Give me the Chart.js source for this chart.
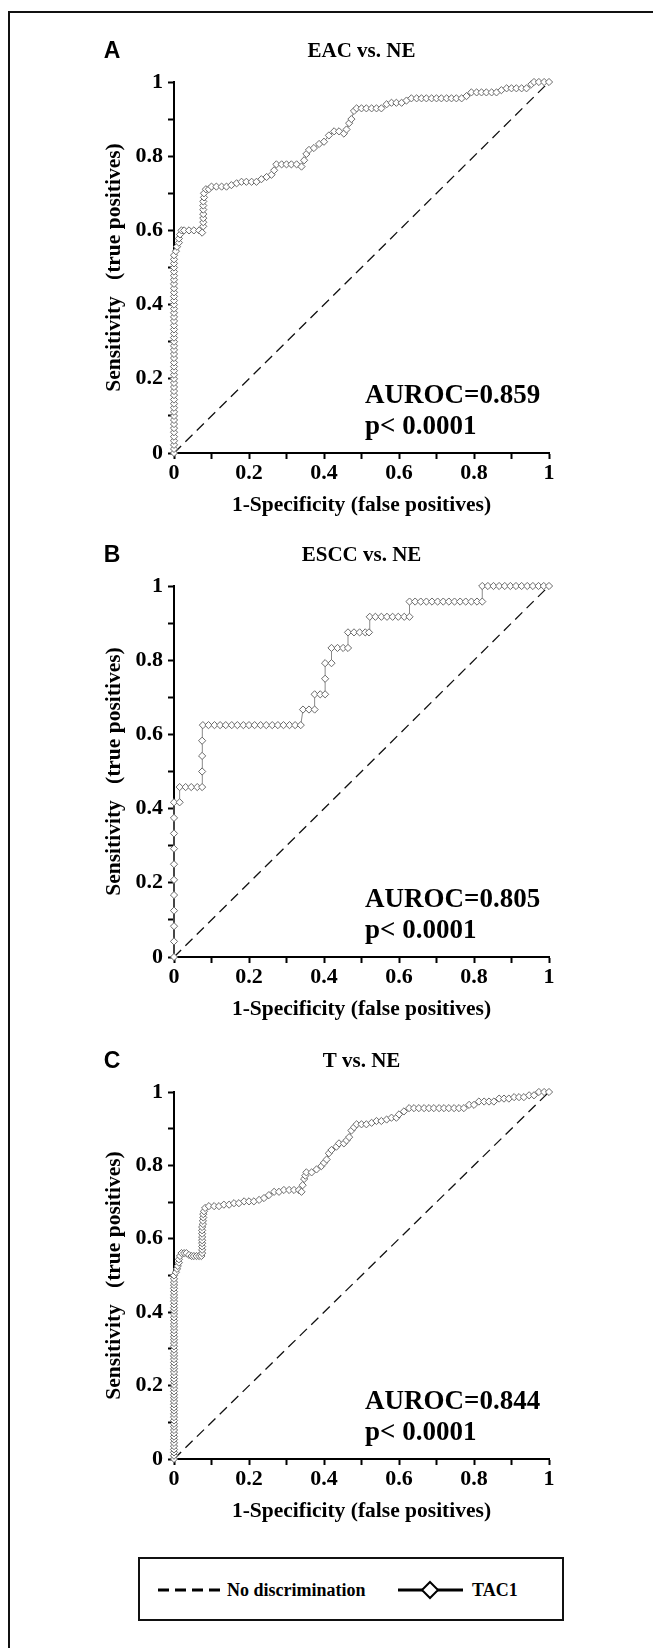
<!DOCTYPE html>
<html>
<head>
<meta charset="utf-8">
<script src="https://cdn.jsdelivr.net/npm/chart.js@4.4.1/dist/chart.umd.min.js"></script>
<style>
html,body{margin:0;padding:0;background:#fff;}
body{width:653px;height:1648px;position:relative;overflow:hidden;}
#frame{position:absolute;left:8px;top:11px;width:700px;height:1700px;border-left:2px solid #111;border-top:2px solid #111;}
canvas{position:absolute;left:0;}
#legend{position:absolute;left:138px;top:1557px;width:426px;height:64px;box-sizing:border-box;border:2px solid #111;background:#fff;}
#legend svg{position:absolute;left:-2px;top:-2px;}
</style>
</head>
<body>
<div id="frame"></div>
<canvas id="cA" width="653" height="521" style="top:2px"></canvas>
<canvas id="cB" width="653" height="521" style="top:506px"></canvas>
<canvas id="cC" width="653" height="517" style="top:1012px"></canvas>
<div id="legend">
<svg width="426" height="64" xmlns="http://www.w3.org/2000/svg">
  <line x1="20" y1="33" x2="82" y2="33" stroke="#000" stroke-width="3" stroke-dasharray="11,6"/>
  <text x="89" y="39" font-family="Liberation Serif, Times New Roman, serif" font-weight="bold" font-size="18" fill="#000">No discrimination</text>
  <line x1="260" y1="33" x2="325" y2="33" stroke="#000" stroke-width="3"/>
  <polygon points="292,25 300,33 292,41 284,33" fill="#fff" stroke="#000" stroke-width="2"/>
  <text x="334" y="39" font-family="Liberation Serif, Times New Roman, serif" font-weight="bold" font-size="18" fill="#000">TAC1</text>
</svg>
</div>
<script>
// ---------- data ----------
const panelLetters = ['A', 'B', 'C'];
const panelTitles = ['EAC vs. NE', 'ESCC vs. NE', 'T vs. NE'];
const aurocLabels = ['AUROC=0.859', 'AUROC=0.805', 'AUROC=0.844'];
const pLabels = ['p< 0.0001', 'p< 0.0001', 'p< 0.0001'];
const xTickLabels = ['0', '0.2', '0.4', '0.6', '0.8', '1'];
const yTickLabels = ['0', '0.2', '0.4', '0.6', '0.8', '1'];
const xAxisTitle = '1-Specificity (false positives)';
const yAxisTitle = 'Sensitivity   (true positives)';
const diagX = [0, 1];
const diagY = [0, 1];

// [1-specificity, sensitivity]
const eacRoc = [
[0,0],[0,0.011],[0,0.022],[0,0.033],[0,0.044],[0,0.056],[0,0.067],[0,0.078],[0,0.089],[0,0.1],
[0,0.111],[0,0.122],[0,0.133],[0,0.144],[0,0.156],[0,0.167],[0,0.178],[0,0.189],[0,0.2],[0,0.211],
[0,0.222],[0,0.233],[0,0.244],[0,0.256],[0,0.267],[0,0.278],[0,0.289],[0,0.3],[0,0.311],[0,0.322],
[0,0.333],[0,0.344],[0,0.356],[0,0.367],[0,0.378],[0,0.389],[0,0.4],[0,0.411],[0,0.422],[0,0.433],
[0,0.444],[0,0.456],[0,0.467],[0,0.478],[0,0.489],[0,0.5],[0,0.511],[0,0.522],[0,0.533],
[0.005,0.544],[0.008,0.556],[0.013,0.567],[0.013,0.578],[0.016,0.589],[0.02,0.6],[0.027,0.6],[0.04,0.6],
[0.053,0.6],[0.067,0.6],[0.075,0.594],[0.078,0.611],[0.078,0.622],[0.078,0.633],[0.078,0.644],[0.078,0.656],
[0.078,0.667],[0.078,0.678],[0.08,0.689],[0.08,0.7],[0.085,0.711],[0.093,0.711],[0.1,0.718],[0.113,0.718],
[0.127,0.718],[0.14,0.718],[0.153,0.722],[0.167,0.727],[0.18,0.731],[0.193,0.731],[0.207,0.731],[0.22,0.731],
[0.233,0.738],[0.247,0.744],[0.26,0.75],[0.267,0.762],[0.273,0.778],[0.287,0.778],[0.3,0.778],[0.313,0.778],
[0.327,0.778],[0.34,0.772],[0.347,0.789],[0.353,0.806],[0.36,0.817],[0.373,0.822],[0.387,0.833],[0.4,0.839],
[0.413,0.856],[0.427,0.867],[0.44,0.867],[0.453,0.861],[0.46,0.872],[0.467,0.889],[0.473,0.9],[0.48,0.922],
[0.487,0.929],[0.5,0.929],[0.513,0.929],[0.527,0.929],[0.54,0.929],[0.553,0.929],[0.567,0.94],[0.58,0.944],
[0.593,0.944],[0.607,0.944],[0.62,0.95],[0.633,0.956],[0.647,0.956],[0.66,0.956],[0.673,0.956],[0.687,0.956],
[0.7,0.956],[0.713,0.956],[0.727,0.956],[0.74,0.956],[0.753,0.956],[0.767,0.956],[0.78,0.962],[0.793,0.972],
[0.807,0.972],[0.82,0.972],[0.833,0.972],[0.847,0.972],[0.86,0.972],[0.873,0.978],[0.887,0.983],[0.9,0.983],
[0.913,0.983],[0.927,0.983],[0.94,0.983],[0.953,0.994],[0.96,1],[0.973,1],[0.987,1],[1,1]
];

const esccRoc = [
[0,0],[0,0.042],[0,0.083],[0,0.125],[0,0.167],[0,0.208],[0,0.25],[0,0.292],[0,0.333],[0,0.375],[0,0.417],
[0.015,0.417],[0.015,0.458],[0.031,0.458],[0.046,0.458],[0.062,0.458],[0.075,0.458],[0.075,0.5],[0.075,0.542],
[0.075,0.583],[0.077,0.625],[0.092,0.625],[0.108,0.625],[0.123,0.625],[0.138,0.625],[0.154,0.625],[0.169,0.625],
[0.185,0.625],[0.2,0.625],[0.215,0.625],[0.231,0.625],[0.246,0.625],[0.262,0.625],[0.277,0.625],[0.292,0.625],
[0.308,0.625],[0.323,0.625],[0.338,0.625],[0.344,0.667],[0.36,0.667],[0.375,0.667],[0.375,0.708],[0.39,0.708],
[0.403,0.708],[0.403,0.75],[0.403,0.792],[0.42,0.792],[0.42,0.833],[0.436,0.833],[0.451,0.833],[0.464,0.833],
[0.464,0.875],[0.48,0.875],[0.495,0.875],[0.51,0.875],[0.52,0.875],[0.522,0.917],[0.537,0.917],[0.553,0.917],
[0.568,0.917],[0.583,0.917],[0.598,0.917],[0.614,0.917],[0.628,0.917],[0.628,0.958],[0.643,0.958],[0.658,0.958],
[0.673,0.958],[0.688,0.958],[0.703,0.958],[0.718,0.958],[0.733,0.958],[0.748,0.958],[0.763,0.958],[0.778,0.958],
[0.793,0.958],[0.808,0.958],[0.822,0.958],[0.822,1],[0.837,1],[0.852,1],[0.867,1],[0.882,1],[0.897,1],
[0.912,1],[0.927,1],[0.942,1],[0.957,1],[0.972,1],[0.986,1],[1,1]
];

const tRoc = [
[0,0],[0,0.009],[0,0.018],[0,0.026],[0,0.035],[0,0.044],[0,0.053],[0,0.061],[0,0.07],[0,0.079],
[0,0.088],[0,0.096],[0,0.105],[0,0.114],[0,0.123],[0,0.132],[0,0.14],[0,0.149],[0,0.158],[0,0.167],
[0,0.175],[0,0.184],[0,0.193],[0,0.202],[0,0.211],[0,0.219],[0,0.228],[0,0.237],[0,0.246],[0,0.254],
[0,0.263],[0,0.272],[0,0.281],[0,0.289],[0,0.298],[0,0.307],[0,0.316],[0,0.325],[0,0.333],[0,0.342],
[0,0.351],[0,0.36],[0,0.368],[0,0.377],[0,0.386],[0,0.395],[0,0.404],[0,0.412],[0,0.421],[0,0.43],
[0,0.439],[0,0.447],[0,0.456],[0,0.465],[0,0.474],[0,0.482],[0,0.491],[0,0.5],
[0.005,0.509],[0.008,0.518],[0.01,0.526],[0.013,0.535],[0.013,0.544],[0.016,0.553],[0.02,0.561],[0.027,0.561],
[0.033,0.561],[0.04,0.556],[0.047,0.553],[0.053,0.553],[0.06,0.553],[0.067,0.553],[0.073,0.553],[0.075,0.561],
[0.075,0.57],[0.075,0.579],[0.075,0.588],[0.075,0.596],[0.075,0.605],[0.075,0.614],[0.075,0.623],[0.075,0.632],
[0.077,0.64],[0.077,0.649],[0.078,0.658],[0.078,0.667],[0.08,0.675],[0.083,0.684],[0.093,0.689],[0.107,0.689],
[0.12,0.689],[0.133,0.693],[0.147,0.693],[0.16,0.697],[0.173,0.697],[0.187,0.702],[0.2,0.702],[0.213,0.702],
[0.227,0.706],[0.24,0.711],[0.253,0.719],[0.267,0.728],[0.28,0.728],[0.293,0.733],[0.307,0.733],[0.32,0.733],
[0.333,0.733],[0.34,0.728],[0.343,0.746],[0.347,0.763],[0.35,0.772],[0.353,0.781],[0.367,0.781],[0.38,0.789],
[0.393,0.798],[0.4,0.807],[0.407,0.816],[0.413,0.833],[0.42,0.842],[0.433,0.851],[0.44,0.86],[0.453,0.86],
[0.46,0.868],[0.467,0.877],[0.473,0.895],[0.48,0.904],[0.487,0.912],[0.5,0.912],[0.513,0.912],[0.527,0.916],
[0.54,0.921],[0.553,0.921],[0.567,0.925],[0.58,0.93],[0.593,0.93],[0.6,0.939],[0.613,0.947],[0.627,0.956],
[0.64,0.956],[0.653,0.956],[0.667,0.956],[0.68,0.956],[0.693,0.956],[0.707,0.956],[0.72,0.956],[0.733,0.956],
[0.747,0.956],[0.76,0.956],[0.773,0.956],[0.787,0.965],[0.8,0.965],[0.813,0.974],[0.827,0.974],[0.84,0.974],
[0.853,0.974],[0.867,0.982],[0.88,0.982],[0.893,0.982],[0.907,0.986],[0.92,0.986],[0.933,0.986],[0.947,0.991],
[0.96,0.991],[0.973,1],[0.987,1],[1,1]
];

const panelRocs = [eacRoc, esccRoc, tRoc];

// ---------- rendering ----------
const SERIF = '"Liberation Serif", "Times New Roman", Times, serif';
const SANS = '"Liberation Sans", Arial, Helvetica, sans-serif';

const panelText = {
  id: 'panelText',
  afterDraw(chart, args, o) {
    const {ctx, chartArea: a} = chart;
    ctx.save();
    ctx.fillStyle = '#000';
    ctx.textBaseline = 'middle';
    ctx.textAlign = 'center';
    ctx.font = 'bold 23px ' + SANS;
    ctx.fillText(o.letter, 112, a.top - 30);
    ctx.font = 'bold 21px ' + SERIF;
    ctx.fillText(o.title, (a.left + a.right) / 2, a.top - 30);
    ctx.textAlign = 'left';
    ctx.textBaseline = 'alphabetic';
    ctx.font = 'bold 27px ' + SERIF;
    ctx.fillText(o.auroc, 365, a.bottom - 50);
    ctx.fillText(o.p, 365, a.bottom - 19);
    ctx.restore();
  }
};

function tickCb(labels) {
  return function (v) {
    const k = Math.round(v * 10);
    return k % 2 === 0 ? labels[k / 2] : '';
  };
}

function makeChart(id, i) {
  const roc = panelRocs[i];
  new Chart(document.getElementById(id), {
    type: 'scatter',
    data: {
      datasets: [
        {
          label: 'TAC1',
          data: roc.map(p => ({x: p[0], y: p[1]})),
          showLine: true,
          borderColor: '#8a8a8a',
          borderWidth: 1,
          pointStyle: 'rectRot',
          pointRadius: 3.6,
          pointBackgroundColor: '#fff',
          pointBorderColor: '#6a6a6a',
          pointBorderWidth: 1,
          clip: false,
          order: 0
        },
        {
          label: 'No discrimination',
          data: diagX.map((x, j) => ({x: x, y: diagY[j]})),
          showLine: true,
          borderColor: '#111',
          borderWidth: 1.3,
          borderDash: [10, 6],
          pointRadius: 0,
          clip: false,
          order: 1
        }
      ]
    },
    options: {
      responsive: false,
      devicePixelRatio: 1,
      animation: false,
      events: [],
      layout: {padding: {left: 102, right: 104, top: 80, bottom: 5}},
      plugins: {
        legend: {display: false},
        title: {display: false},
        tooltip: {enabled: false},
        panelText: {letter: panelLetters[i], title: panelTitles[i], auroc: aurocLabels[i], p: pLabels[i]}
      },
      scales: {
        x: {
          type: 'linear', min: 0, max: 1,
          grid: {display: true, drawOnChartArea: false, drawTicks: true, tickLength: 6, tickWidth: 2, tickColor: '#000'},
          border: {display: true, color: '#000', width: 2},
          ticks: {stepSize: 0.1, autoSkip: false, maxRotation: 0, color: '#000', padding: 1,
                  font: {family: SERIF, size: 22, weight: 'bold'}, callback: tickCb(xTickLabels)},
          title: {display: true, text: xAxisTitle, color: '#000', padding: 0,
                  font: {family: SERIF, size: 21.5, weight: 'bold'}},
          afterFit(s) { s.height = 65; }
        },
        y: {
          type: 'linear', min: 0, max: 1,
          grid: {display: true, drawOnChartArea: false, drawTicks: true, tickLength: 6, tickWidth: 2, tickColor: '#000'},
          border: {display: true, color: '#000', width: 2},
          ticks: {stepSize: 0.1, autoSkip: false, color: '#000', padding: 5,
                  font: {family: SERIF, size: 22, weight: 'bold'}, callback: tickCb(yTickLabels)},
          title: {display: true, text: yAxisTitle, color: '#000', padding: 0,
                  font: {family: SERIF, size: 21.5, weight: 'bold'}},
          afterFit(s) { s.width = 72; }
        }
      }
    },
    plugins: [panelText]
  });
}

makeChart('cA', 0);
makeChart('cB', 1);
makeChart('cC', 2);
</script>
</body>
</html>
